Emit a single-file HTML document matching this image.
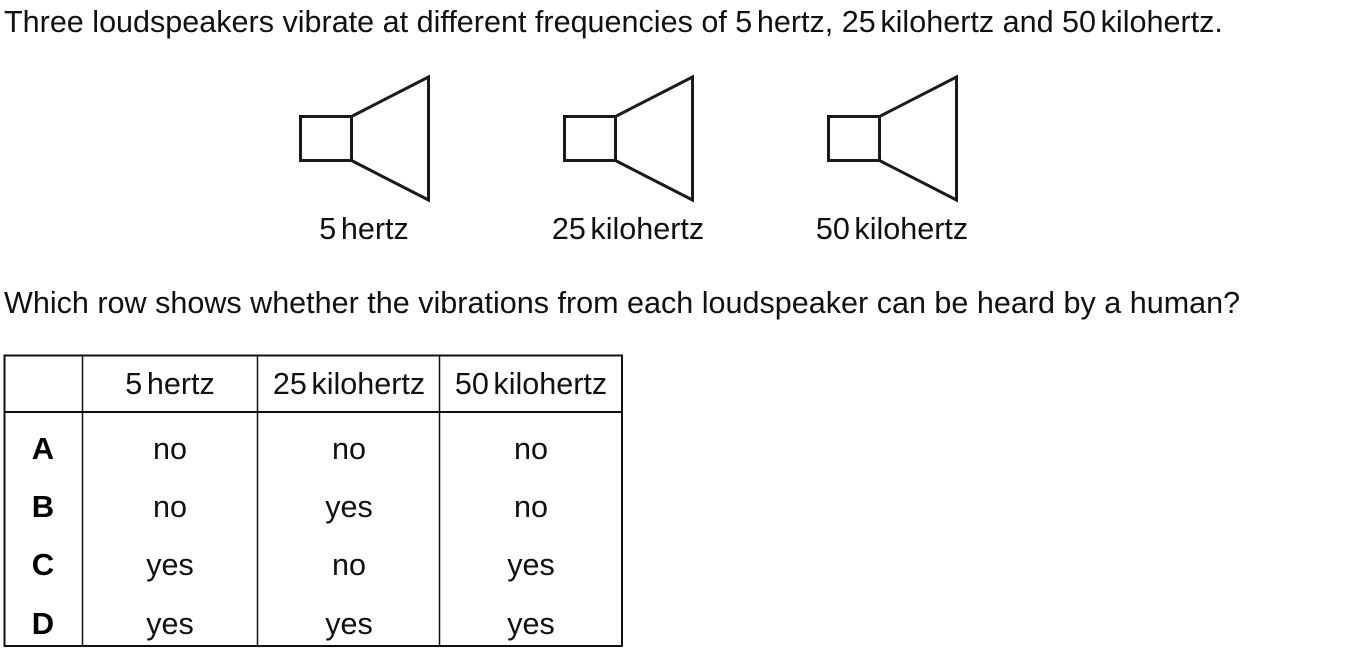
<!DOCTYPE html>
<html lang="en">
<head>
<meta charset="utf-8">
<style>
html,body{margin:0;padding:0;width:1356px;height:656px;background:#fff;overflow:hidden}
svg{display:block}
text{font-family:"Liberation Sans",sans-serif;font-size:30.55px;fill:#111}
.t{font-size:23px}
.m{text-anchor:middle}
.b{font-weight:bold;fill:#000;font-size:31px}
.sp{fill:none;stroke:#1a1a1a;stroke-width:3;stroke-linejoin:miter}
.g{stroke:#111;stroke-width:1.5}
</style>
</head>
<body>
<svg width="1356" height="656" viewBox="0 0 1356 656">
<text x="4" y="32">Three loudspeakers vibrate at different frequencies of 5<tspan class="t">&#8201;</tspan>hertz, 25<tspan class="t">&#8201;</tspan>kilohertz and 50<tspan class="t">&#8201;</tspan>kilohertz.</text>

<g>
<rect class="sp" x="300.5" y="116.5" width="51" height="44"/>
<path class="sp" d="M351.5 116.5L428.5 77V200L351.5 160.5"/>
</g>
<g>
<rect class="sp" x="564.5" y="116.5" width="51" height="44"/>
<path class="sp" d="M615.5 116.5L692.5 77V200L615.5 160.5"/>
</g>
<g>
<rect class="sp" x="828.5" y="116.5" width="51" height="44"/>
<path class="sp" d="M879.5 116.5L956.5 77V200L879.5 160.5"/>
</g>
<text class="m" x="364" y="239">5<tspan class="t">&#8201;</tspan>hertz</text>
<text class="m" x="628" y="239">25<tspan class="t">&#8201;</tspan>kilohertz</text>
<text class="m" x="892" y="239">50<tspan class="t">&#8201;</tspan>kilohertz</text>

<text x="4" y="313">Which row shows whether the vibrations from each loudspeaker can be heard by a human?</text>

<g>
<rect x="4.500" y="355.500" width="617.500" height="290.500" fill="none" stroke="#111" stroke-width="2"/>
<line x1="4" y1="412" x2="622" y2="412" stroke="#111" stroke-width="2"/>
<line class="g" x1="82.500" y1="356" x2="82.500" y2="646"/>
<line class="g" x1="257.500" y1="356" x2="257.500" y2="646"/>
<line class="g" x1="439.500" y1="356" x2="439.500" y2="646"/>

<text class="m" x="170" y="394">5<tspan class="t">&#8201;</tspan>hertz</text>
<text class="m" x="349" y="394">25<tspan class="t">&#8201;</tspan>kilohertz</text>
<text class="m" x="531" y="394">50<tspan class="t">&#8201;</tspan>kilohertz</text>

<text class="m b" x="43" y="459">A</text>
<text class="m" x="170" y="459">no</text>
<text class="m" x="349" y="459">no</text>
<text class="m" x="531" y="459">no</text>

<text class="m b" x="43" y="517">B</text>
<text class="m" x="170" y="517">no</text>
<text class="m" x="349" y="517">yes</text>
<text class="m" x="531" y="517">no</text>

<text class="m b" x="43" y="575">C</text>
<text class="m" x="170" y="575">yes</text>
<text class="m" x="349" y="575">no</text>
<text class="m" x="531" y="575">yes</text>

<text class="m b" x="43" y="634">D</text>
<text class="m" x="170" y="634">yes</text>
<text class="m" x="349" y="634">yes</text>
<text class="m" x="531" y="634">yes</text>
</g>
</svg>
</body>
</html>
